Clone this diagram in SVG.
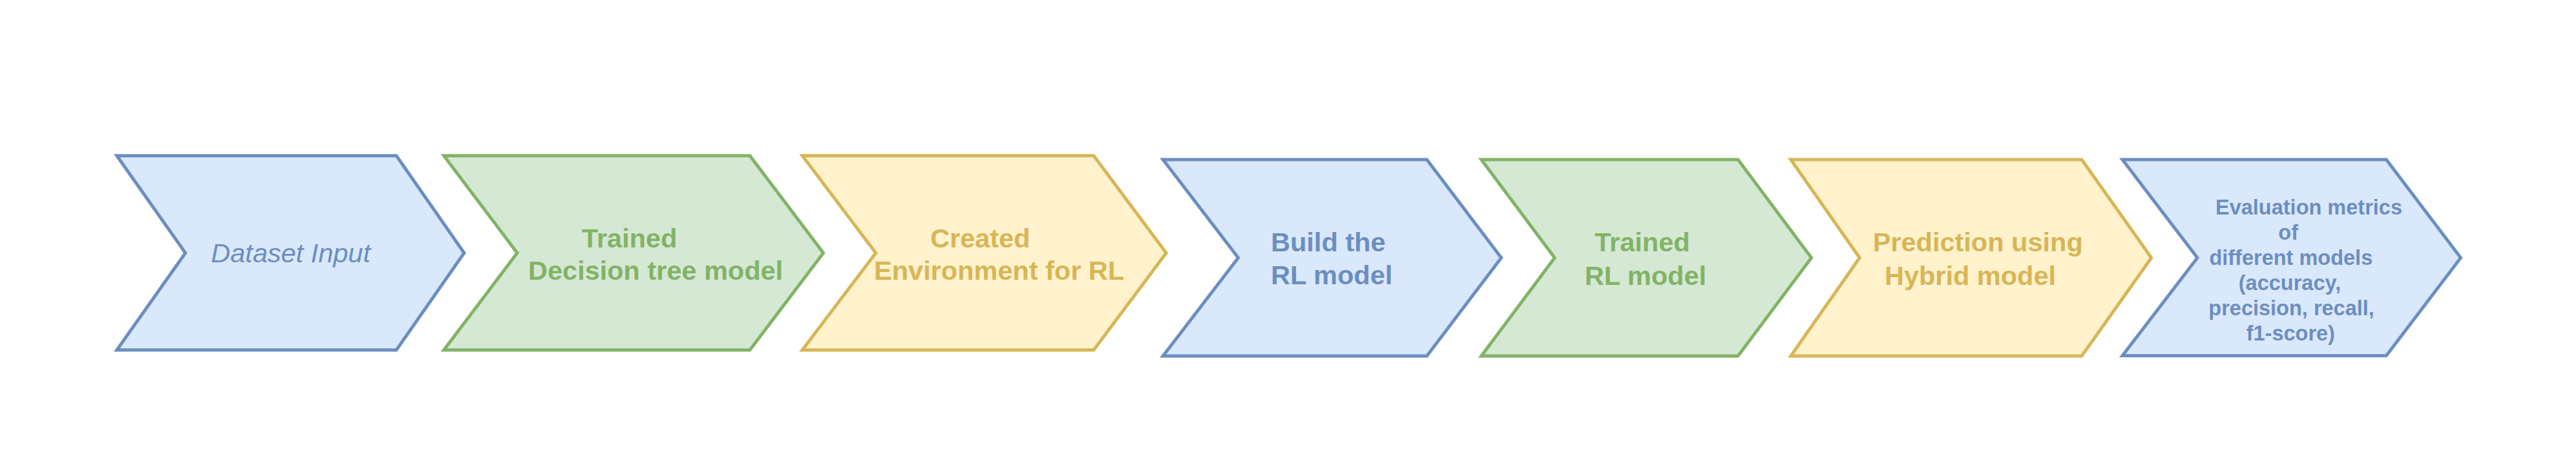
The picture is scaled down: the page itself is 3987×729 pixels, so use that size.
<svg xmlns="http://www.w3.org/2000/svg" width="3987" height="729" viewBox="0 0 3987 729">
<style>
  .shape { stroke-width: 5; stroke-linejoin: miter; }
  .blue { fill: #dae8fc; stroke: #6c8ebf; }
  .green { fill: #d5e8d4; stroke: #82b366; }
  .yellow { fill: #fff2cc; stroke: #d6b656; }
  .lbl { font-family: "Liberation Sans", Arial, Helvetica, sans-serif; font-size: 41.5px; font-weight: bold; text-anchor: middle; }
  .small { font-size: 32.5px; }
  .tb { fill: #6c8ebf; }
  .tg { fill: #82b366; }
  .ty { fill: #d6b656; }
</style>
<rect x="0" y="0" width="3987" height="729" fill="#ffffff"/>
<g id="connectors"></g>
<g id="node-dataset-input">
  <polygon class="shape blue" points="180.8,241 613.5,241 718.4,391.5 613.5,541.7 180.8,541.7 287,391.5"/>
  <text class="lbl tb" x="450" y="406" style="font-weight:normal;font-style:italic">Dataset Input</text>
</g>
<g id="node-decision-tree">
  <polygon class="shape green" points="687,241 1160.6,241 1274.3,391.5 1160.6,541.7 687,541.7 800.5,391.5"/>
  <text class="lbl tg" x="974.2" y="382.7">Trained</text>
  <text class="lbl tg" x="1014.7" y="433.3">Decision tree model</text>
</g>
<g id="node-environment">
  <polygon class="shape yellow" points="1241.8,241 1692.8,241 1805,391.5 1692.8,541.7 1241.8,541.7 1355.5,391.5"/>
  <text class="lbl ty" x="1517.2" y="382.7">Created</text>
  <text class="lbl ty" x="1546.5" y="433.3">Environment for RL</text>
</g>
<g id="node-build-rl">
  <polygon class="shape blue" points="1800,247 2208.4,247 2323.6,399 2208.4,551 1800,551 1916.5,399"/>
  <text class="lbl tb" x="1967" y="388.7" style="text-anchor:start">Build the</text>
  <text class="lbl tb" x="1967" y="440" style="text-anchor:start">RL model</text>
</g>
<g id="node-trained-rl">
  <polygon class="shape green" points="2292.7,247 2690,247 2803.6,399 2690,551 2292.7,551 2406.2,399"/>
  <text class="lbl tg" x="2541.8" y="389">Trained</text>
  <text class="lbl tg" x="2546.9" y="440.5">RL model</text>
</g>
<g id="node-prediction">
  <polygon class="shape yellow" points="2771.7,247 3222,247 3329.8,399 3222,551 2771.7,551 2878.2,399"/>
  <text class="lbl ty" x="3061.2" y="389">Prediction using</text>
  <text class="lbl ty" x="3049.5" y="440.5">Hybrid model</text>
</g>
<g id="node-evaluation">
  <polygon class="shape blue" points="3285,247 3693.4,247 3808.6,399 3693.4,550.5 3285,550.5 3401,399"/>
  <text class="lbl small tb" x="3429" y="332" style="text-anchor:start">Evaluation metrics</text>
  <text class="lbl small tb" x="3541.7" y="371.2">of</text>
  <text class="lbl small tb" x="3545.8" y="410.2">different models</text>
  <text class="lbl small tb" x="3544" y="449">(accuracy,</text>
  <text class="lbl small tb" x="3546.6" y="487.5">precision, recall,</text>
  <text class="lbl small tb" x="3545.3" y="526.5">f1-score)</text>
</g>
</svg>
